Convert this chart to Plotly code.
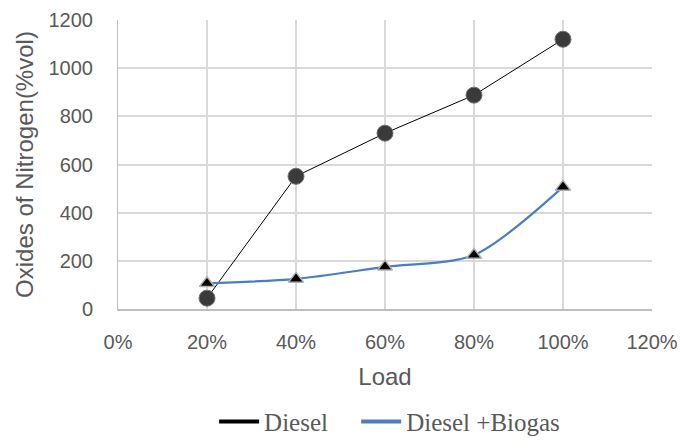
import plotly.graph_objects as go

load = [0.2, 0.4, 0.6, 0.8, 1.0]
diesel = [45, 551, 730, 888, 1120]
diesel_biogas = [107, 125, 175, 224, 507]

x_ticks = [0, 0.2, 0.4, 0.6, 0.8, 1.0, 1.2]
y_ticks = [0, 200, 400, 600, 800, 1000, 1200]

fig = go.Figure()

# Diesel: straight segments with round dark markers
fig.add_trace(go.Scatter(
    x=load, y=diesel, mode="lines+markers", name="Diesel", showlegend=False,
    line=dict(color="black", width=1),
    marker=dict(symbol="circle", size=16, color="#3a3a3a",
                line=dict(color="#707070", width=1)),
))

# Diesel + Biogas: smoothed curve with triangle markers
fig.add_trace(go.Scatter(
    x=load, y=diesel_biogas, mode="lines+markers", name="Diesel +Biogas",
    showlegend=False,
    line=dict(color="#4a7ebf", width=2.2, shape="spline", smoothing=0.8),
    marker=dict(symbol="triangle-up", size=13, color="black",
                line=dict(color="#b0b0b0", width=1.5)),
))

# Legend entries show line samples only, each in its own legend box
fig.add_trace(go.Scatter(x=[None], y=[None], mode="lines", name="Diesel",
                         line=dict(color="black", width=4), legend="legend"))
fig.add_trace(go.Scatter(x=[None], y=[None], mode="lines", name="Diesel +Biogas",
                         line=dict(color="#4a7ebf", width=4), legend="legend2"))

legend_font = dict(family="Liberation Serif, Times New Roman, serif",
                   size=25, color="#595959")

fig.update_layout(
    width=682, height=440,
    margin=dict(l=118, r=30, t=20, b=131, autoexpand=False),
    plot_bgcolor="white", paper_bgcolor="white",
    font=dict(family="Liberation Sans, Arial, sans-serif", color="#595959", size=20),
    legend=dict(orientation="h", x=0.18, xanchor="left", y=-0.39, yanchor="middle",
                font=legend_font, itemwidth=40),
    legend2=dict(orientation="h", x=0.446, xanchor="left", y=-0.39, yanchor="middle",
                 font=legend_font, itemwidth=40),
    xaxis=dict(
        range=[0, 1.2], tickvals=x_ticks, tickformat=".0%",
        showgrid=True, gridcolor="#d9d9d9", gridwidth=1.5,
        zeroline=False, showline=True, linecolor="#bfbfbf", linewidth=1.5,
        ticks="", tickfont=dict(size=20), ticklabelstandoff=14,
        title=dict(text="Load", font=dict(size=24), standoff=16),
        automargin=False,
    ),
    yaxis=dict(
        range=[0, 1200], tickvals=y_ticks,
        showgrid=True, gridcolor="#d9d9d9", gridwidth=1.5,
        zeroline=False, showline=True, linecolor="#bfbfbf", linewidth=1,
        ticks="", tickfont=dict(size=20), ticklabelstandoff=20,
        title=dict(text="Oxides of Nitrogen(%vol)", font=dict(size=24), standoff=8),
        automargin=False,
    ),
)

fig.write_html("out.html")
